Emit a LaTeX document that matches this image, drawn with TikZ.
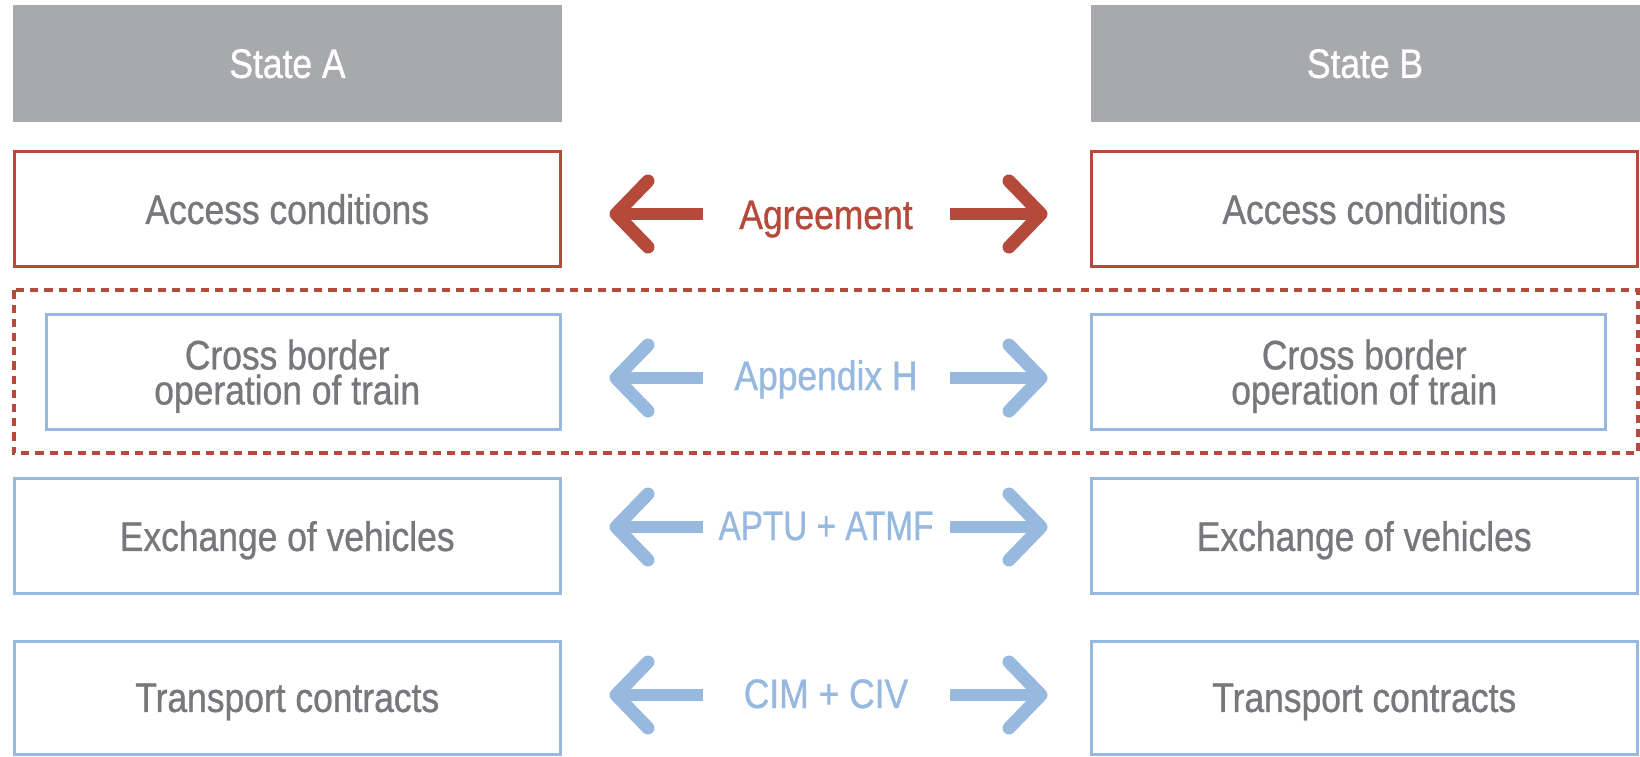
\documentclass[tikz,border=0pt]{standalone}
\usepackage{fontspec}
\setmainfont{Liberation Sans}[FakeStretch=0.86,FakeBold=0.8]
\usetikzlibrary{calc}

\definecolor{headgray}{HTML}{A7A9AC}
\definecolor{txtgray}{HTML}{77787B}
\definecolor{accred}{HTML}{B5493A}
\definecolor{lblue}{HTML}{97B8DF}

\tikzset{
  boxtext/.style={inner sep=0pt, text depth=0pt, align=center,
    font=\fontsize{20.6}{17.5}\selectfont},
  header/.style={boxtext, fill=headgray, text=white,
    minimum width=274.5pt, minimum height=58.5pt},
  redbox/.style={boxtext, draw=accred, line width=1.5pt, text=txtgray,
    minimum width=273.25pt, minimum height=57.5pt},
  bluebox/.style={boxtext, draw=lblue, line width=1.5pt, text=txtgray,
    minimum width=273.25pt, minimum height=57.5pt},
  treaty/.style={inner sep=0pt, anchor=base, font=\fontsize{20.6}{24}\selectfont},
  shaft/.style={line width=6.3pt},
  barb/.style={line width=6.5pt, line cap=round, line join=round},
  groupframe/.style={draw=accred, line width=2pt, dash pattern=on 4.1pt off 3pt},
  % pair of opposed arrows between the two columns, drawn at the pic's height
  pics/twoway/.style={code={
    \coordinate (-lt) at (703,0);
    \coordinate (-lh) at (616,0);
    \coordinate (-rt) at (950,0);
    \coordinate (-rh) at (1041,0);
    \draw[shaft,#1] (-lt) -- (-lh);
    \draw[barb,#1] ($(-lh)+(32,-33)$) -- (-lh) -- ($(-lh)+(32,33)$);
    \draw[shaft,#1] (-rt) -- (-rh);
    \draw[barb,#1] ($(-rh)+(-32,-33)$) -- (-rh) -- ($(-rh)+(-32,33)$);
  }},
}

\begin{document}
\begin{tikzpicture}[x=0.5pt,y=-0.5pt]
\useasboundingbox (0,0) rectangle (1640,756);

% column headers
\node[header] (stA) at (287.5,63.5) {State A};
\node[header] (stB) at (1365,63.5) {State B};

% access conditions
\node[redbox] (accA) at (287.25,209) {Access conditions};
\node[redbox] (accB) at (1364.25,209) {Access conditions};
\node[treaty, text=accred] (agree) at (826,229) {Agreement};
\path (0,214) pic (agr) {twoway=accred};

% cross border operation, framed as part of the agreement;
% its text stays on the column axis, not on the narrower box
\draw[groupframe] (13.7,290.3) rectangle (1638,453.3);
\node[bluebox, minimum width=257.25pt] (crA) at (303.25,372) {};
\node[bluebox, minimum width=257.25pt] (crB) at (1348.5,372) {};
\node[boxtext, text=txtgray] (crAt) at (287.25,372) {Cross border\\operation of train};
\node[boxtext, text=txtgray] (crBt) at (1364.25,372) {Cross border\\operation of train};
\node[treaty, text=lblue] (apph) at (826,390) {Appendix H};
\path (0,378) pic (app) {twoway=lblue};

% exchange of vehicles
\node[bluebox] (exA) at (287.25,536) {Exchange of vehicles};
\node[bluebox] (exB) at (1364.25,536) {Exchange of vehicles};
\node[treaty, text=lblue] (aptu) at (826,540) {\scalebox{0.94}[1]{APTU + ATMF}};
\path (0,527) pic (veh) {twoway=lblue};

% transport contracts
\node[bluebox, minimum height=56.25pt] (trA) at (287.25,697.75) {Transport contracts};
\node[bluebox, minimum height=56.25pt] (trB) at (1364.25,697.75) {Transport contracts};
\node[treaty, text=lblue] (cim) at (826,708) {CIM + CIV};
\path (0,695) pic (tra) {twoway=lblue};
\end{tikzpicture}
\end{document}
